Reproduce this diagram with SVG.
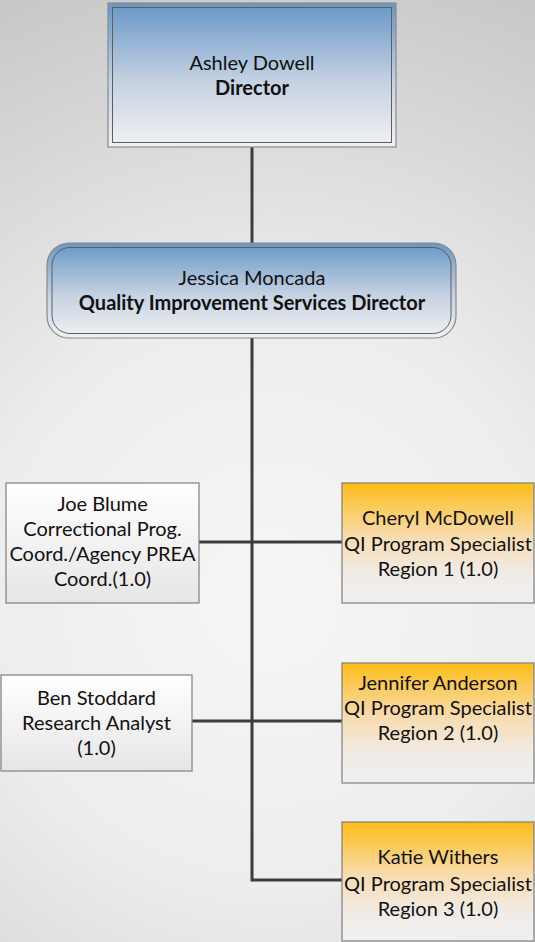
<svg xmlns="http://www.w3.org/2000/svg" width="535" height="942" viewBox="0 0 535 942">
  <defs>
    <radialGradient id="bg" cx="270" cy="600" r="640" gradientUnits="userSpaceOnUse">
      <stop offset="0" stop-color="#f6f6f6"/>
      <stop offset="0.45" stop-color="#ededed"/>
      <stop offset="1" stop-color="#c9c9c9"/>
    </radialGradient>
    <linearGradient id="blue" x1="0" y1="0" x2="0" y2="1">
      <stop offset="0" stop-color="#6797c6"/>
      <stop offset="0.55" stop-color="#c6d2e2"/>
      <stop offset="1" stop-color="#f1f1f3"/>
    </linearGradient>
    <linearGradient id="gold" x1="0" y1="0" x2="0" y2="1">
      <stop offset="0" stop-color="#fdbd16"/>
      <stop offset="0.45" stop-color="#f8dcb0"/>
      <stop offset="0.75" stop-color="#f1ebe5"/>
      <stop offset="1" stop-color="#efefef"/>
    </linearGradient>
    <linearGradient id="plain" x1="0" y1="0" x2="0" y2="1">
      <stop offset="0" stop-color="#ffffff"/>
      <stop offset="1" stop-color="#e6e6e6"/>
    </linearGradient>
    <style>
      .outer { stroke: #8a8a8a; stroke-width: 1.2; }
      .inner { fill: none; stroke: #5e5e5e; stroke-width: 1; }
      .box { stroke: #7f7f7f; stroke-width: 1.2; }
      .link { fill: none; stroke: #3c3c3c; stroke-width: 3; }
      text { font-family: Lato, "Liberation Sans", sans-serif; font-size: 20px; fill: #111; text-anchor: middle; }
      .b { font-weight: bold; }
    </style>
  </defs>

  <rect width="535" height="942" fill="url(#bg)"/>

  <!-- reporting lines -->
  <g id="connectors">
    <path class="link" d="M252 147 V243"/>
    <path class="link" d="M252 338 V880 H342"/>
    <path class="link" d="M199 542 H342"/>
    <path class="link" d="M192 721 H342"/>
  </g>

  <g id="director">
    <rect class="outer" x="108" y="3" width="288" height="144" fill="url(#blue)"/>
    <rect class="inner" x="112.5" y="7.5" width="279" height="135"/>
    <text x="252" y="70">Ashley Dowell</text>
    <text x="252" y="95" class="b">Director</text>
  </g>

  <g id="qis-director">
    <rect class="outer" x="47" y="243" width="409" height="95" rx="22" fill="url(#blue)"/>
    <rect class="inner" x="52" y="247.5" width="399" height="86" rx="18"/>
    <text x="252" y="285">Jessica Moncada</text>
    <text x="252" y="310" class="b">Quality Improvement Services Director</text>
  </g>

  <g id="joe-blume">
    <rect class="box" x="6" y="483" width="193" height="120" fill="url(#plain)"/>
    <text x="102.5" y="511">Joe Blume</text>
    <text x="102.5" y="536">Correctional Prog.</text>
    <text x="102.5" y="561">Coord./Agency PREA</text>
    <text x="102.5" y="586">Coord.(1.0)</text>
  </g>

  <g id="cheryl-mcdowell">
    <rect class="box" x="342" y="483" width="192" height="120" fill="url(#gold)"/>
    <text x="438" y="525">Cheryl McDowell</text>
    <text x="438" y="551">QI Program Specialist</text>
    <text x="438" y="576">Region 1 (1.0)</text>
  </g>

  <g id="ben-stoddard">
    <rect class="box" x="1" y="675" width="191" height="96" fill="url(#plain)"/>
    <text x="96.5" y="705">Ben Stoddard</text>
    <text x="96.5" y="730">Research Analyst</text>
    <text x="96.5" y="755">(1.0)</text>
  </g>

  <g id="jennifer-anderson">
    <rect class="box" x="342" y="663" width="192" height="120" fill="url(#gold)"/>
    <text x="438" y="690">Jennifer Anderson</text>
    <text x="438" y="715">QI Program Specialist</text>
    <text x="438" y="740">Region 2 (1.0)</text>
  </g>

  <g id="katie-withers">
    <rect class="box" x="342" y="822" width="192" height="119" fill="url(#gold)"/>
    <text x="438" y="864">Katie Withers</text>
    <text x="438" y="891">QI Program Specialist</text>
    <text x="438" y="916">Region 3 (1.0)</text>
  </g>
</svg>
